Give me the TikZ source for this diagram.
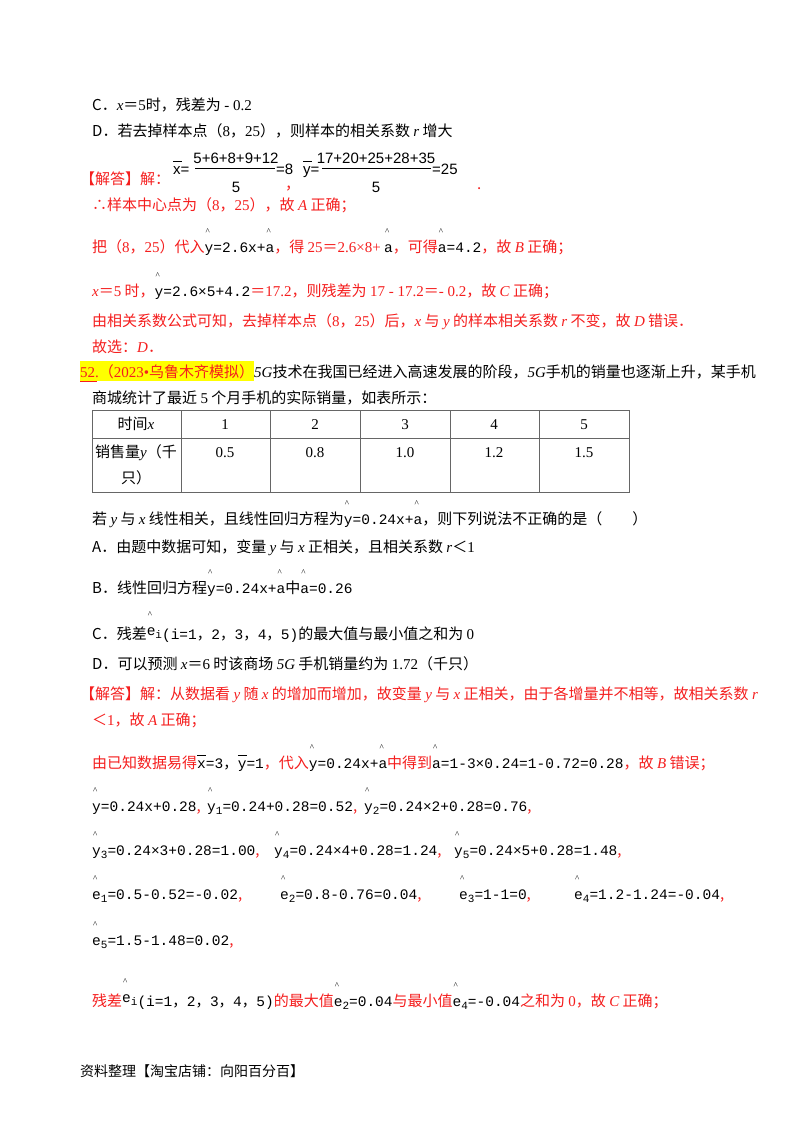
\documentclass[tikz,border=0pt]{standalone}
\usepackage{fontspec}
\setmainfont{Noto Sans CJK SC}
\newfontfamily\cjkf{Noto Sans CJK SC}
\newfontfamily\ser{Liberation Serif}
\newfontfamily\mon{Liberation Mono}
\newfontfamily\sans{Liberation Sans}
\definecolor{rd}{RGB}{245,30,30}
\definecolor{hl}{RGB}{255,255,0}
\newcommand\mi[1]{{\ser\itshape #1}}
\newcommand\sr[1]{{\ser #1}}
\newcommand\fm[1]{{\fontsize{14.5}{16}\mon #1}}
\newcommand\cq{{\cjkf ＝}}
\newcommand\cl{{\cjkf ＜}}
\newcommand\cc{{\cjkf ，}}
\newcommand\ha[1]{\rlap{\raisebox{18pt}{\kern1pt\fontsize{9}{9}\ser\^{}}}#1}
\newcommand\ba[1]{\rlap{\raisebox{12pt}{\rule{9pt}{0.8pt}}}#1}
\newcommand\sub[1]{\raisebox{-3pt}{\fontsize{11}{11}\selectfont #1}}
\begin{document}
\begin{tikzpicture}[x=1pt,y=-1pt,
  t/.style={anchor=base west,inner sep=0pt,font=\fontsize{15}{17}\selectfont},
  r/.style={t,text=rd},
  c/.style={anchor=base,inner sep=0pt,font=\fontsize{15}{17}\selectfont}]
\useasboundingbox (0,0) rectangle (800,1132);
\fill[white] (0,0) rectangle (800,1132);
\node[t] (l1) at (92,110) {C．\mi{x}\cq\sr{5}时，残差为 \sr{- 0.2}};
\node[t] (l2) at (92,136) {D．若去掉样本点（\sr{8}，\sr{25}），则样本的相关系数 \mi{r} 增大};
\node[r] (l3) at (80,184) {【解答】解：};
\node[t] (fx) at (173,174) {\sans\ba{x}=};
\node[c] (n1) at (236,163) {\sans 5+6+8+9+12};
\node[c] (d1) at (236,192) {\sans 5};
\draw (195,168) -- (275,168);
\node[t] (e8) at (276,174) {\sans =8};
\node[r] (cm) at (285,189) {，};
\node[t] (fy2) at (303,174) {\sans\ba{y}=};
\node[c] (n2) at (376,163) {\sans 17+20+25+28+35};
\node[c] (d2) at (376,192) {\sans 5};
\draw (322,168) -- (431,168);
\node[t] (e25) at (432,174) {\sans =25};
\node[r] (pd) at (477,189) {.};
\node[r] (l4) at (92,210) {∴样本中心点为（\sr{8}，\sr{25}），故 \mi{A} 正确；};
\node[r] (l5) at (92,252) {把（\sr{8}，\sr{25}）代入\textcolor{black}{\fm{\ha{y}=2.6x+\ha{a}}}，得 \sr{25\cq 2.6×8+} \textcolor{black}{\fm{\ha{a}}}，可得\textcolor{black}{\fm{\ha{a}=4.2}}，故 \mi{B} 正确；};
\node[r] (l6) at (92,296) {\mi{x}\cq\sr{5} 时，\textcolor{black}{\fm{\ha{y}=2.6×5+4.2}}\sr{\cq 17.2}，则残差为 \sr{17 - 17.2\cq - 0.2}，故 \mi{C} 正确；};
\node[r] (l7) at (92,326) {由相关系数公式可知，去掉样本点（\sr{8}，\sr{25}）后，\mi{x} 与 \mi{y} 的样本相关系数 \mi{r} 不变，故 \mi{D} 错误．};
\node[r] (l8) at (92,352) {故选：\mi{D}．};
\node[t] (q52) at (80,377) {\colorbox{hl}{\kern-3pt\textcolor{rd}{\sr{52.}（\sr{2023•}乌鲁木齐模拟）}\kern-3pt}\mi{5G}技术在我国已经进入高速发展的阶段，\mi{5G}手机的销量也逐渐上升，某手机};
\draw[rd] (80,381) -- (97,381);
\node[t] (l9) at (92,403) {商城统计了最近 \sr{5} 个月手机的实际销量，如表所示：};
% table
\draw[gray!80!black,line width=0.8pt] (92,410) rectangle (629,492);
\draw[gray!80!black,line width=0.8pt] (92,438) -- (629,438);
\foreach \xx in {181,270,360,450,539} \draw[gray!80!black,line width=0.8pt] (\xx,410) -- (\xx,492);
\node[c] (h0) at (136,429) {时间\mi{x}};
\node[c] (h1) at (225,429) {\sr{1}};
\node[c] (h2) at (315,429) {\sr{2}};
\node[c] (h3) at (405,429) {\sr{3}};
\node[c] (h4) at (494,429) {\sr{4}};
\node[c] (h5) at (584,429) {\sr{5}};
\node[c] (v0) at (136,457) {销售量\mi{y}（千};
\node[c] (v0b) at (136,483) {只）};
\node[c] (v1) at (225,457) {\sr{0.5}};
\node[c] (v2) at (315,457) {\sr{0.8}};
\node[c] (v3) at (405,457) {\sr{1.0}};
\node[c] (v4) at (494,457) {\sr{1.2}};
\node[c] (v5) at (584,457) {\sr{1.5}};
\node[t] (l10) at (92,524) {若 \mi{y} 与 \mi{x} 线性相关，且线性回归方程为\fm{\ha{y}=0.24x+\ha{a}}，则下列说法不正确的是（\qquad ）};
\node[t] (l11) at (92,552) {A．由题中数据可知，变量 \mi{y} 与 \mi{x} 正相关，且相关系数 \mi{r}\cl\sr{1}};
\node[t] (l12) at (92,593) {B．线性回归方程\fm{\ha{y}=0.24x+\ha{a}}中\fm{\ha{a}=0.26}};
\node[t] (l13) at (92,639) {C．残差\fm{\raisebox{4pt}{\ha{e}\sub{i}}(i=1\cc 2\cc 3\cc 4\cc 5)}的最大值与最小值之和为 \sr{0}};
\node[t] (l14) at (92,669) {D．可以预测 \mi{x}\cq\sr{6} 时该商场 \mi{5G} 手机销量约为 \sr{1.72}（千只）};
\node[r] (l15) at (80,699) {【解答】解：从数据看 \mi{y} 随 \mi{x} 的增加而增加，故变量 \mi{y} 与 \mi{x} 正相关，由于各增量并不相等，故相关系数 \mi{r}};
\node[r] (l16) at (92,725) {\cl\sr{1}，故 \mi{A} 正确；};
\node[r] (l17) at (92,768) {由已知数据易得\textcolor{black}{\fm{\ba{x}=3\cc\ba{y}=1}}，代入\textcolor{black}{\fm{\ha{y}=0.24x+\ha{a}}}中得到\textcolor{black}{\fm{\ha{a}=1-3×0.24=1-0.72=0.28}}，故 \mi{B} 错误；};
\node[t] (r1) at (92,811) {\fm{\ha{y}=0.24x+0.28}\textcolor{rd}{,}};
\node[t] (r2) at (207,811) {\fm{\ha{y}\sub{1}=0.24+0.28=0.52}\textcolor{rd}{,}};
\node[t] (r3) at (364,811) {\fm{\ha{y}\sub{2}=0.24×2+0.28=0.76}\textcolor{rd}{,}};
\node[t] (r4) at (92,855) {\fm{\ha{y}\sub{3}=0.24×3+0.28=1.00}\textcolor{rd}{,}};
\node[t] (r5) at (274,855) {\fm{\ha{y}\sub{4}=0.24×4+0.28=1.24}\textcolor{rd}{,}};
\node[t] (r6) at (454,855) {\fm{\ha{y}\sub{5}=0.24×5+0.28=1.48}\textcolor{rd}{,}};
\node[t] (r7) at (92,899) {\fm{\ha{e}\sub{1}=0.5-0.52=-0.02}\textcolor{rd}{,}};
\node[t] (r8) at (280,899) {\fm{\ha{e}\sub{2}=0.8-0.76=0.04}\textcolor{rd}{,}};
\node[t] (r9) at (459,899) {\fm{\ha{e}\sub{3}=1-1=0}\textcolor{rd}{,}};
\node[t] (r10) at (574,899) {\fm{\ha{e}\sub{4}=1.2-1.24=-0.04}\textcolor{rd}{,}};
\node[t] (r11) at (92,945) {\fm{\ha{e}\sub{5}=1.5-1.48=0.02}\textcolor{rd}{,}};
\node[r] (l18) at (92,1006) {残差\textcolor{black}{\fm{\raisebox{4pt}{\ha{e}\sub{i}}(i=1\cc 2\cc 3\cc 4\cc 5)}}的最大值\textcolor{black}{\fm{\ha{e}\sub{2}=0.04}}与最小值\textcolor{black}{\fm{\ha{e}\sub{4}=-0.04}}之和为 \sr{0}，故 \mi{C} 正确；};
\node[t,font=\fontsize{14}{15}\selectfont] (ft) at (80,1076) {资料整理【淘宝店铺：向阳百分百】};
\end{tikzpicture}
\end{document}
